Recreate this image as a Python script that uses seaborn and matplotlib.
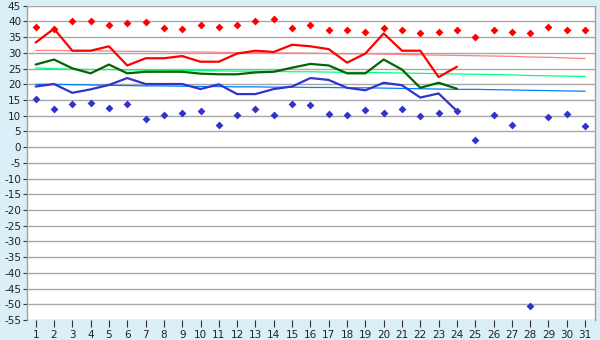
import matplotlib
matplotlib.use("Agg")
import matplotlib.pyplot as plt
import seaborn as sns
import pandas as pd
import numpy as np

days = list(range(1, 32))
obs_days = list(range(1, 25))

record_max = [38.1, 37.6, 40.0, 40.3, 38.8, 39.4, 39.7, 37.8, 37.5, 38.9,
              38.4, 38.8, 40.0, 40.7, 37.8, 38.8, 37.2, 37.2, 36.5, 37.8,
              37.2, 36.2, 36.8, 37.2, 35.2, 37.2, 36.8, 36.2, 38.1, 37.2, 37.2]
record_min = [15.2, 12.3, 13.9, 14.2, 12.6, 13.9, 9.1, 10.1, 11.0, 11.4,
              7.2, 10.1, 12.3, 10.1, 13.6, 13.3, 10.7, 10.1, 11.7, 11.0,
              12.3, 9.8, 11.0, 11.4, 2.4, 10.1, 7.2, -50.7, 9.5, 10.7, 6.6]

daily_max = [33.3, 37.7, 30.7, 30.7, 32.1, 26.0, 28.3, 28.3, 29.0, 27.2,
             27.2, 29.8, 30.7, 30.3, 32.6, 32.1, 31.2, 26.9, 29.8, 36.2,
             30.7, 30.7, 22.3, 25.6]
daily_mean = [26.3, 27.9, 25.1, 23.5, 26.3, 23.5, 24.0, 24.0, 24.0, 23.4,
              23.2, 23.2, 23.8, 24.0, 25.3, 26.5, 26.0, 23.5, 23.5, 27.9,
              24.7, 18.9, 20.5, 18.6]
daily_min = [19.3, 20.1, 17.3, 18.4, 19.8, 22.0, 20.1, 20.1, 20.1, 18.5,
             20.0, 16.9, 16.9, 18.5, 19.3, 22.0, 21.4, 18.9, 18.1, 20.5,
             19.7, 15.8, 17.1, 11.5]

normal_max = [30.8, 30.8, 30.7, 30.7, 30.6, 30.5, 30.5, 30.4, 30.3, 30.3,
              30.2, 30.1, 30.1, 30.0, 30.0, 29.9, 29.8, 29.7, 29.7, 29.6,
              29.5, 29.4, 29.3, 29.2, 29.1, 29.0, 28.9, 28.7, 28.6, 28.4, 28.2]
normal_mean = [25.2, 25.0, 24.8, 24.7, 24.7, 24.6, 24.5, 24.5, 24.4, 24.4,
               24.3, 24.2, 24.2, 24.1, 24.0, 24.0, 23.9, 23.8, 23.8, 23.7,
               23.6, 23.5, 23.4, 23.3, 23.2, 23.1, 23.0, 22.8, 22.7, 22.6, 22.5]
normal_min = [20.0, 20.0, 19.9, 19.8, 19.7, 19.6, 19.5, 19.5, 19.4, 19.3,
              19.3, 19.2, 19.2, 19.1, 19.1, 19.0, 19.0, 18.9, 18.9, 18.8,
              18.7, 18.6, 18.5, 18.4, 18.4, 18.3, 18.2, 18.1, 18.0, 17.9, 17.8]

y_ticks = list(range(-55, 50, 5))

sns.set_style("white")
plt.rcParams['font.family'] = ['DejaVu Sans']

bg = '#daeff7'
fig = plt.figure(figsize=(6, 3.4), dpi=100, facecolor=bg)
ax = fig.add_axes([0.0445, 0.0588, 0.9475, 0.9242])
ax.set_facecolor('white')

df_all = pd.DataFrame({'day': days, 'rmax': record_max, 'rmin': record_min,
                       'nmax': normal_max, 'nmean': normal_mean, 'nmin': normal_min})
df_obs = pd.DataFrame({'day': obs_days, 'dmax': daily_max, 'dmean': daily_mean, 'dmin': daily_min})

for col, c in [('nmax', '#ff8080'), ('nmean', '#00ff80'), ('nmin', '#0080ff')]:
    sns.lineplot(data=df_all, x='day', y=col, color=c, lw=0.9, ax=ax, zorder=2)

for col, c in [('dmax', '#ff0000'), ('dmean', '#006600'), ('dmin', '#3333cc')]:
    sns.lineplot(data=df_obs, x='day', y=col, color=c, lw=1.6, ax=ax, zorder=3)

sns.scatterplot(data=df_all, x='day', y='rmax', color='#ff0000', marker='D',
                s=16, linewidth=0, ax=ax, zorder=4)
sns.scatterplot(data=df_all, x='day', y='rmin', color='#3333cc', marker='D',
                s=16, linewidth=0, ax=ax, zorder=4)

ax.set_xlim(0.51, 31.55)
ax.set_ylim(-55, 45)
ax.set_xticks(days)
ax.set_xticklabels([str(d) for d in days])
ax.set_yticks(y_ticks)
ax.set_yticklabels([str(v) for v in y_ticks])
ax.grid(axis='y', color='#a8a8a8', lw=1.0)
ax.set_axisbelow(True)
ax.set_xlabel('')
ax.set_ylabel('')

for s in ['top', 'bottom']:
    ax.spines[s].set_visible(False)
ax.spines['left'].set_color('#a0a0a0')
ax.spines['right'].set_color('#a0a0a0')
ax.spines['left'].set_linewidth(1.0)
ax.spines['right'].set_linewidth(1.0)

ax.tick_params(axis='x', length=5, width=0.8, color='#333333', labelsize=7.5,
               pad=2, labelcolor='#222222', bottom=True)
ax.tick_params(axis='y', length=3, width=0.8, color='#333333', labelsize=7.5,
               pad=1, labelcolor='#222222', left=True)

fig.savefig('out.png', dpi=100, facecolor=bg)
